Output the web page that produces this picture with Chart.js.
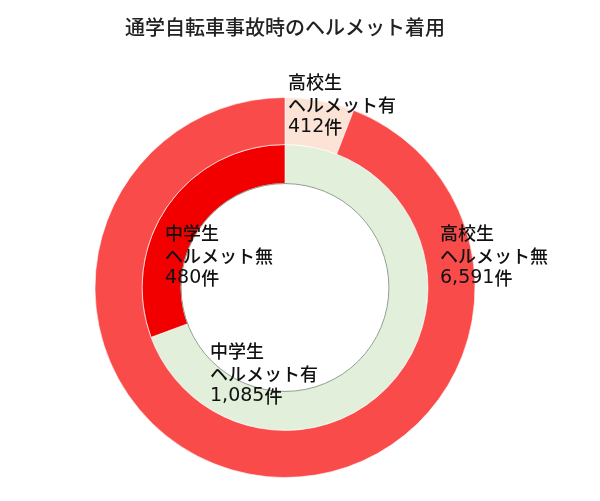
<!DOCTYPE html>
<html>
<head>
<meta charset="utf-8">
<script src="https://cdn.jsdelivr.net/npm/chart.js@4"></script>
<style>
  html, body { margin: 0; padding: 0; background: #ffffff; }
  #c { display: block; }
</style>
</head>
<body>
<canvas id="c" width="600" height="501"></canvas>
<script>
const titleText = "通学自転車事故時のヘルメット着用";

const highCategories = ["ヘルメット有", "ヘルメット無"];
const highValues = [412, 6591];
const highLabels = ["高校生\nヘルメット有\n412件", "高校生\nヘルメット無\n6,591件"];

const middleCategories = ["ヘルメット有", "ヘルメット無"];
const middleValues = [1085, 480];
const middleLabels = ["中学生\nヘルメット有\n1,085件", "中学生\nヘルメット無\n480件"];

const highColors = ["#fbe3d6", "#fa4b4b"];
const middleColors = ["#e2efda", "#f20000"];

// label anchor offsets (left edge, first line centre) relative to chart centre, in px
const labelOffsets = [
  [[3, -205], [155, -54]],
  [[-75, 64], [-120, -54]]
];

const fontFamily = "'Noto Sans CJK JP', 'Noto Sans', sans-serif";
const cjkFont = "500 18px 'Noto Sans CJK JP', sans-serif";
const latinFont = "400 19px 'DejaVu Sans', sans-serif";

function drawMixed(ctx, text, x, y) {
  let cx = x;
  for (const ch of text) {
    ctx.font = ch.charCodeAt(0) < 128 ? latinFont : cjkFont;
    ctx.fillText(ch, cx, y);
    cx += ctx.measureText(ch).width;
  }
}

const labelPlugin = {
  id: 'ringLabels',
  afterDatasetsDraw(chart) {
    const ctx = chart.ctx;
    const innerMeta = chart.getDatasetMeta(1);
    const a0 = innerMeta.data[0];
    ctx.save();
    // hole outline
    ctx.beginPath();
    ctx.arc(a0.x, a0.y, a0.innerRadius, 0, Math.PI * 2);
    ctx.strokeStyle = "#8f9d8f";
    ctx.lineWidth = 1;
    ctx.stroke();
    // labels
    ctx.fillStyle = "#111111";
    ctx.textAlign = "left";
    ctx.textBaseline = "middle";
    const allLabels = [highLabels, middleLabels];
    chart.data.datasets.forEach((ds, di) => {
      const meta = chart.getDatasetMeta(di);
      meta.data.forEach((arc, i) => {
        const lines = allLabels[di][i].split("\n");
        const [dx, dy] = labelOffsets[di][i];
        lines.forEach((ln, k) => {
          drawMixed(ctx, ln, arc.x + dx, arc.y + dy + k * 22.5);
        });
      });
    });
    ctx.restore();
  }
};

new Chart(document.getElementById('c'), {
  type: 'doughnut',
  data: {
    labels: highCategories,
    datasets: [
      {
        label: "高校生",
        data: highValues,
        backgroundColor: highColors,
        borderColor: "rgba(255,255,255,0.6)",
        borderWidth: 1,
        weight: 47
      },
      {
        label: "中学生",
        data: middleValues,
        backgroundColor: middleColors,
        borderColor: "rgba(255,255,255,0.6)",
        borderWidth: 1,
        weight: 39
      }
    ]
  },
  options: {
    responsive: false,
    animation: false,
    devicePixelRatio: 1,
    cutout: "54.7%",
    layout: { padding: { top: 0, left: 0, right: 30, bottom: 23 } },
    plugins: {
      legend: { display: false },
      tooltip: { enabled: false },
      title: {
        display: true,
        text: titleText,
        color: "#222222",
        font: { family: fontFamily, size: 20, weight: '500', lineHeight: 1.2 },
        padding: { top: 15, bottom: 58 }
      }
    }
  },
  plugins: [labelPlugin]
});
</script>
</body>
</html>
